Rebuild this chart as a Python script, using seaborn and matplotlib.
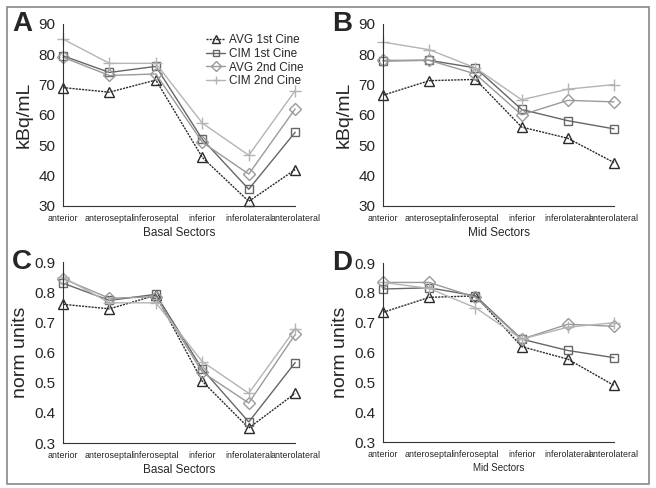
import matplotlib
matplotlib.use('Agg')
import matplotlib.pyplot as plt
import numpy as np
import pandas as pd
import seaborn as sns

## Data
sectors = ['anterior', 'anteroseptal', 'inferoseptal', 'inferior', 'inferolateral', 'anterolateral']
series = ['AVG 1st Cine', 'CIM 1st Cine', 'AVG 2nd Cine', 'CIM 2nd Cine']

basal_kbq = {
    'AVG 1st Cine': [69.0, 67.5, 71.5, 46.0, 31.5, 42.0],
    'CIM 1st Cine': [79.5, 74.0, 76.0, 52.0, 35.5, 54.3],
    'AVG 2nd Cine': [79.0, 73.0, 73.5, 51.0, 40.5, 62.0],
    'CIM 2nd Cine': [85.0, 77.0, 77.0, 57.3, 46.7, 68.0],
}
mid_kbq = {
    'AVG 1st Cine': [66.5, 71.3, 71.7, 56.0, 52.3, 44.3],
    'CIM 1st Cine': [77.8, 78.0, 75.5, 61.8, 58.1, 55.4],
    'AVG 2nd Cine': [78.0, 78.0, 73.5, 60.0, 64.8, 64.3],
    'CIM 2nd Cine': [84.0, 81.5, 75.5, 65.0, 68.5, 70.0],
}
basal_norm = {
    'AVG 1st Cine': [0.760, 0.745, 0.790, 0.505, 0.350, 0.465],
    'CIM 1st Cine': [0.830, 0.773, 0.793, 0.545, 0.370, 0.567],
    'AVG 2nd Cine': [0.845, 0.780, 0.785, 0.535, 0.433, 0.660],
    'CIM 2nd Cine': [0.850, 0.765, 0.765, 0.570, 0.465, 0.678],
}
mid_norm = {
    'AVG 1st Cine': [0.735, 0.785, 0.790, 0.620, 0.578, 0.490],
    'CIM 1st Cine': [0.813, 0.817, 0.790, 0.645, 0.607, 0.583],
    'AVG 2nd Cine': [0.835, 0.835, 0.785, 0.645, 0.695, 0.688],
    'CIM 2nd Cine': [0.835, 0.815, 0.750, 0.645, 0.685, 0.700],
}

## Styles
styles = {
    'AVG 1st Cine': dict(color='#2a2a2a', marker='^', ls=(0, (1.5, 0.8)), ms=7),
    'CIM 1st Cine': dict(color='#666666', marker='s', ls='-', ms=6),
    'AVG 2nd Cine': dict(color='#9a9a9a', marker='D', ls='-', ms=6),
    'CIM 2nd Cine': dict(color='#b4b4b4', marker='+', ls='-', ms=8),
}

sns.set_style('white')
plt.rcParams['font.family'] = ['Liberation Sans', 'DejaVu Sans']

fig = plt.figure(figsize=(6.56, 4.88), dpi=100)

panels = [
    ('A', basal_kbq, 'kBq/mL', 'Basal Sectors', 8.5, [0.096, 0.578, 0.354, 0.373], (30, 90), np.arange(30, 91, 10), '%d'),
    ('B', mid_kbq, 'kBq/mL', 'Mid Sectors', 8.5, [0.584, 0.578, 0.352, 0.373], (30, 90), np.arange(30, 91, 10), '%d'),
    ('C', basal_norm, 'norm units', 'Basal Sectors', 8.5, [0.096, 0.092, 0.354, 0.371], (0.3, 0.9), np.arange(0.3, 0.91, 0.1), '%.1f'),
    ('D', mid_norm, 'norm units', 'Mid Sectors', 7, [0.584, 0.094, 0.352, 0.367], (0.3, 0.9), np.arange(0.3, 0.91, 0.1), '%.1f'),
]

for letter, data, ylab, xlab, xlsize, rect, ylim, yticks, fmt in panels:
    ax = fig.add_axes(rect)
    df = pd.DataFrame(data)
    df['pos'] = np.arange(len(sectors))
    for s in series:
        st = styles[s]
        sns.lineplot(data=df, x='pos', y=s, ax=ax, color=st['color'], linestyle=st['ls'],
                     marker=st['marker'], markersize=st['ms'], markerfacecolor='none',
                     markeredgecolor=st['color'], markeredgewidth=1.0, linewidth=1.0,
                     label=s, legend=False)
    ax.set_xlim(0, len(sectors) - 1)
    ax.set_ylim(*ylim)
    ax.set_xticks(range(len(sectors)))
    ax.set_xticklabels(sectors, fontsize=6.4)
    ax.set_yticks(yticks)
    ax.set_yticklabels([fmt % v for v in yticks], fontsize=11)
    ax.set_xlabel(xlab, fontsize=xlsize, labelpad=3)
    ax.set_ylabel(ylab, fontsize=14, labelpad=4)
    for side in ['top', 'right']:
        ax.spines[side].set_visible(False)
    for side in ['left', 'bottom']:
        ax.spines[side].set_color('#333333')
        ax.spines[side].set_linewidth(0.8)
    ax.tick_params(axis='both', direction='out', length=3, width=0.7, color='#333333', pad=2.5)
    for ln in ax.lines:
        ln.set_clip_on(False)
    ax.text(-0.22, 1.0, letter, transform=ax.transAxes, fontsize=20, fontweight='bold',
            va='center', ha='left')
    if letter == 'A':
        ax.legend(loc='upper right', bbox_to_anchor=(1.07, 0.99), frameon=False,
                  handlelength=1.6, handletextpad=0.3, labelspacing=0.15, borderpad=0.2,
                  prop={'size': 8.5}, markerscale=0.8)

# outer frame
frame = plt.Rectangle((0.011, 0.008), 0.979, 0.977, transform=fig.transFigure,
                      fill=False, edgecolor='#888888', linewidth=1.2)
fig.patches.append(frame)

fig.savefig('out.png', dpi=100)
